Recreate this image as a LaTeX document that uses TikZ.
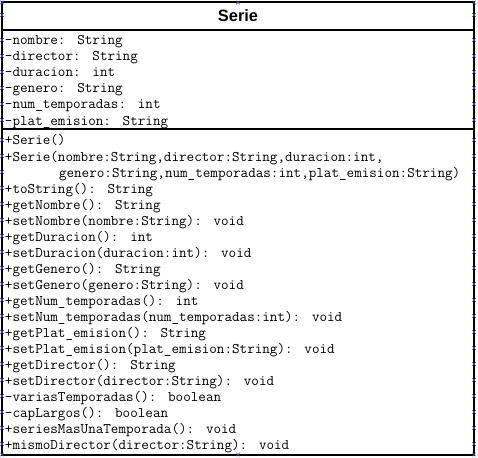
\documentclass[tikz,border=0pt]{standalone}
\usepackage{fontspec}
\newfontfamily\titlefont{Liberation Sans}
\usetikzlibrary{calc}
\definecolor{handleblue}{RGB}{70,70,235}
\newcommand\umltext[0]{\ttfamily\fontsize{14.7}{16}\selectfont\xspaceskip=0.8em}

\begin{document}
\begin{tikzpicture}[x=1pt,y=-1pt]
\useasboundingbox (0,0) rectangle (478,457);

\coordinate (A) at (2,2.5);
\coordinate (B) at (474,2.5);
\coordinate (C) at (474,454.5);
\coordinate (D) at (2,454.5);
\coordinate (E) at (2,30);
\coordinate (F) at (474,30);
\coordinate (G) at (2,129.5);
\coordinate (H) at (474,129.5);

\draw[black,line width=2pt] (A)--(B)--(C)--(D)--cycle;
\draw[black,line width=2pt] (E)--(F);
\draw[black,line width=2pt] (G)--(H);

\node[anchor=base, inner sep=0] (title) at (238,22) {\titlefont\bfseries\fontsize{16.4}{18}\selectfont Serie};

% attributes
\foreach \txt [count=\i] in {{-nombre: String},{-director: String},{-duracion: int},{-genero: String},{-num\_temporadas: int},{-plat\_emision: String}}
  \node[anchor=base west, inner sep=0] (attr\i) at (4.8,{29+16*\i}) {\umltext\txt};

% methods
\foreach \txt [count=\i] in {{+Serie()},{+Serie(nombre:String,director:String,duracion:int,},{\hspace*{3.675em}genero:String,num\_temporadas:int,plat\_emision:String)},{+toString(): String},{+getNombre(): String},{+setNombre(nombre:String): void},{+getDuracion(): int},{+setDuracion(duracion:int): void},{+getGenero(): String},{+setGenero(genero:String): void},{+getNum\_temporadas(): int},{+setNum\_temporadas(num\_temporadas:int): void},{+getPlat\_emision(): String},{+setPlat\_emision(plat\_emision:String): void},{+getDirector(): String},{+setDirector(director:String): void},{-variasTemporadas(): boolean},{-capLargos(): boolean},{+seriesMasUnaTemporada(): void},{+mismoDirector(director:String): void}}
  \node[anchor=base west, inner sep=0] (meth\i) at (4.8,{129+16*\i}) {\umltext\txt};

% selection handles
\foreach \y in {2.5,15,40,56,72,88,104,120,140,156,172,188,204,220,236,252,268,284,300,316,332,348,364,380,396,412,428,444,454.5}
  \foreach \x in {2,474}
    \draw[handleblue,line width=0.5pt] ($(\x,\y)+(-1.8,-1.8)$)--++(3.6,3.6) ($(\x,\y)+(-1.8,1.8)$)--++(3.6,-3.6);
\foreach \x in {238}
  \foreach \y in {2.5,454.5}
    \draw[handleblue,line width=0.5pt] ($(\x,\y)+(-1.8,-1.8)$)--++(3.6,3.6) ($(\x,\y)+(-1.8,1.8)$)--++(3.6,-3.6);

\end{tikzpicture}
\end{document}
